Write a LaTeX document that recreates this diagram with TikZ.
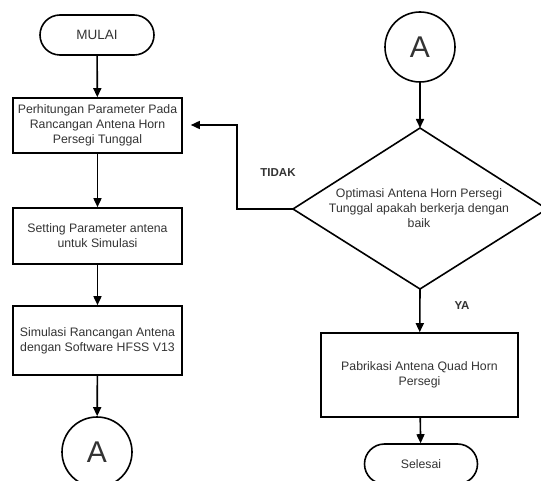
\documentclass[tikz,border=0pt]{standalone}
\usepackage{fontspec}
\setmainfont{Liberation Sans}
\usetikzlibrary{arrows.meta,shapes.geometric}
\definecolor{txt}{HTML}{333333}
\tikzset{
  every node/.style={font=\fontsize{12.3}{15}\selectfont, text=txt},
  line/.style={draw=black, line width=1.6pt},
  arr/.style={line, -{Triangle[length=9pt,width=8pt]}},
  procbox/.style={line, rectangle, inner sep=0pt, align=center},
  term/.style={line, rectangle, rounded corners=20pt, inner sep=0pt},
  conn/.style={line, circle, inner sep=0pt, minimum size=70pt, font=\fontsize{30}{30}\selectfont},
  lbl/.style={font=\bfseries\fontsize{11.5}{13}\selectfont}
}
\begin{document}
\begin{tikzpicture}[x=1pt,y=-1pt]
\useasboundingbox (0,0) rectangle (541,481);
\clip (0,0) rectangle (541,481);
% left column
\node[term, minimum width=114pt, minimum height=40pt, font=\fontsize{13.5}{15}\selectfont] (start) at (97,35) {MULAI};
\node[procbox, minimum width=169pt, minimum height=55pt] (b1) at (97.5,125.5) {Perhitungan Parameter Pada\\Rancangan Antena Horn\\Persegi Tunggal};
\node[procbox, minimum width=169pt, minimum height=56pt] (b2) at (97.5,236) {Setting Parameter antena\\untuk Simulasi};
\node[procbox, minimum width=169pt, minimum height=69pt] (b3) at (97.5,340.5) {Simulasi Rancangan Antena\\dengan Software HFSS V13};
\node[conn] (a1) at (97,452) {A};
% right column
\node[conn] (a2) at (420,47) {A};
\path[line] (420,128) coordinate (dt) -- (547,209) coordinate (dr) -- (420,289) coordinate (db) -- (293,209) coordinate (dl) -- cycle;
\node[align=center] (dtext) at (419,208) {Optimasi Antena Horn Persegi\\Tunggal apakah berkerja dengan\\baik};
\node[procbox, minimum width=197pt, minimum height=84pt] (b4) at (419.5,375) {Pabrikasi Antena Quad Horn\\Persegi};
\node[term, minimum width=113pt, minimum height=40pt] (end) at (421,464) {Selesai};
% labels
\node[lbl] (tidak) at (278,173) {TIDAK};
\node[lbl] (ya) at (462,306) {YA};
% connectors
\draw[arr] (start) -- (b1);
\draw[arr] (b1) -- (b2);
\draw[arr] (b2) -- (b3);
\draw[arr] (b3) -- (a1);
\draw[arr] (a2) -- (dt);
\draw[arr] (db) -- (b4);
\draw[arr] (b4) -- (end);
\coordinate (fb) at (237,125);
\draw[arr, shorten >=8pt] (dl) -| (fb) -- (b1.east |- fb);
\end{tikzpicture}
\end{document}
